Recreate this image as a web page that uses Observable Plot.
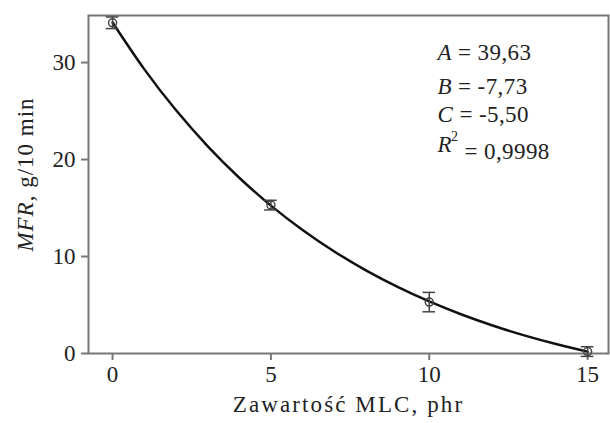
<!DOCTYPE html>
<html><head><meta charset="utf-8">
<script src="https://cdn.jsdelivr.net/npm/d3@7"></script>
<script src="https://cdn.jsdelivr.net/npm/@observablehq/plot@0.6"></script>
<style>body{margin:0;background:#fff}</style>
</head><body><div id="chart"></div>
<script>
// measured points (MLC content, phr -> MFR, g/10 min) with error bars
const phr = [0, 5, 10, 15];
const mfr = [34.1, 15.3, 5.3, 0.2];
const mfrErr = [0.6, 0.5, 1.0, 0.5];
// fitted curve
const fitX = [0, 1, 2, 3, 4, 5, 6, 7, 8, 9, 10, 11, 12, 13, 14, 15];
const fitY = [34.13, 29.32, 25.10, 21.39, 18.12, 15.25, 12.74, 10.52, 8.58, 6.87, 5.37, 4.05, 2.89, 1.87, 0.98, 0.19];
const xTicks = [0, 5, 10, 15];
const yTicks = [0, 10, 20, 30];
const paramNames = ["A", "B", "C", "R"];
const paramValues = ["39,63", "-7,73", "-5,50", "0,9998"];
const xLabel = "Zawartość MLC, phr";
const yLabel = "MFR, g/10 min";

const points = phr.map((x, i) => ({x, y: mfr[i], e: mfrErr[i]}));
const fit = fitX.map((x, i) => ({x, y: fitY[i]}));

const font = "'Liberation Serif', 'DejaVu Serif', serif";
const fs = 23;
const annoDy = [28, 62, 90, 120];

const plot = Plot.plot({
  width: 610,
  height: 423,
  marginLeft: 88,
  marginRight: 2,
  marginTop: 15,
  marginBottom: 70,
  style: {fontFamily: font, fontSize: fs + "px", color: "#222", background: "#fff"},
  x: {domain: [-0.76, 15.66]},
  y: {domain: [0, 34.85]},
  marks: [
    Plot.axisX({ticks: xTicks, tickSize: 7, tickPadding: 5, stroke: "#777", strokeWidth: 2,
      label: xLabel, labelArrow: "none", labelAnchor: "center", labelOffset: 58, fontSize: fs}),
    Plot.axisY({ticks: yTicks, tickSize: 7, tickPadding: 6, stroke: "#777", strokeWidth: 2,
      label: yLabel, labelArrow: "none", labelAnchor: "center", labelOffset: 72, fontSize: fs}),
    Plot.frame({stroke: "#777", strokeWidth: 2}),
    Plot.line(fit, {x: "x", y: "y", curve: "natural", stroke: "#111", strokeWidth: 2.5}),
    Plot.ruleX(points, {x: "x", y1: d => d.y - d.e, y2: d => d.y + d.e, stroke: "#444", strokeWidth: 1.5}),
    Plot.ruleY(points, {y: d => d.y - d.e, x1: d => d.x - 0.2, x2: d => d.x + 0.2, stroke: "#444", strokeWidth: 1.5}),
    Plot.ruleY(points, {y: d => d.y + d.e, x1: d => d.x - 0.2, x2: d => d.x + 0.2, stroke: "#444", strokeWidth: 1.5}),
    Plot.dot(points, {x: "x", y: "y", r: 4, stroke: "#444", strokeWidth: 1.5, fill: "none"}),
    ...paramNames.map((n, i) => Plot.text([`${n} = ${paramValues[i]}`], {
      text: d => d, frameAnchor: "top-left", dx: 349, dy: annoDy[i],
      textAnchor: "start", fontSize: fs, fill: "#222", className: "anno"
    }))
  ]
});

document.getElementById("chart").appendChild(plot);

// rich text: italics and superscript
const svg = d3.select(plot);
svg.selectAll(".anno text").each(function() {
  const t = d3.select(this);
  const s = t.text();
  const name = s[0];
  const rest = s.slice(1);
  t.text(null).attr("letter-spacing", 0.4);
  t.append("tspan").attr("font-style", "italic").text(name);
  if (name === "R") {
    t.append("tspan").attr("font-size", 14).attr("dy", "-0.8em").attr("dx", -1).text("2");
    t.append("tspan").attr("dy", "0.8em").text(rest);
  } else {
    t.append("tspan").text(rest);
  }
});
svg.selectAll('g[aria-label="x-axis label"] text').each(function() {
  const t = d3.select(this);
  t.text(t.text().replace(/\s*[→←↑↓]\s*/g, "")).attr("letter-spacing", 2.1);
});
svg.selectAll('g[aria-label="y-axis label"] text').each(function() {
  const t = d3.select(this);
  const s = t.text().replace(/\s*[→←↑↓]\s*/g, "");
  const k = s.indexOf(",");
  t.text(null).attr("letter-spacing", 1).attr("dx", 10);
  t.append("tspan").attr("font-style", "italic").text(s.slice(0, k));
  t.append("tspan").text(s.slice(k));
});
</script>
</body></html>
